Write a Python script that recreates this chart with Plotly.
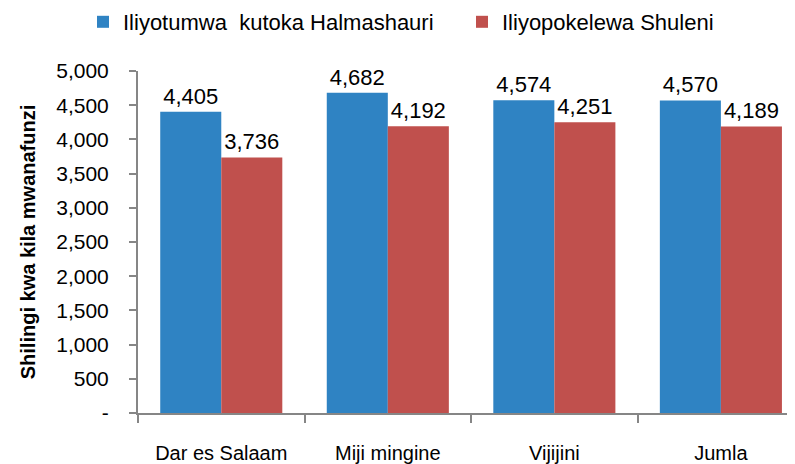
import plotly.graph_objects as go

categories = ["Dar es Salaam", "Miji mingine", "Vijijini", "Jumla"]
halmashauri = [4405, 4682, 4574, 4570]
shuleni = [3736, 4192, 4251, 4189]
series_names = ["Iliyotumwa  kutoka Halmashauri", "Iliyopokelewa Shuleni"]
y_tickvals = [0, 500, 1000, 1500, 2000, 2500, 3000, 3500, 4000, 4500, 5000]
y_ticktext = ["-", "500", "1,000", "1,500", "2,000", "2,500", "3,000", "3,500", "4,000", "4,500", "5,000"]

FONT = "Liberation Sans"
AX = "#868686"
W, H = 787, 456  # page body has an 8px default margin

fig = go.Figure()
fig.add_bar(x=categories, y=halmashauri, name=series_names[0], marker_color="#2F83C3",
            marker_line_width=0, text=[f"{v:,}" for v in halmashauri], textposition="outside",
            textfont=dict(size=22, color="#000000", family=FONT), cliponaxis=False,
            legend="legend")
fig.add_bar(x=categories, y=shuleni, name=series_names[1], marker_color="#C0504D",
            marker_line_width=0, text=[f"{v:,}" for v in shuleni], textposition="outside",
            textfont=dict(size=22, color="#000000", family=FONT), cliponaxis=False,
            legend="legend2")

leg_common = dict(orientation="h", yref="container", y=1 - 14 / H, yanchor="middle",
                  xref="container", xanchor="left", font=dict(size=22, family=FONT),
                  itemclick=False, itemdoubleclick=False, bgcolor="rgba(0,0,0,0)")

fig.update_layout(
    width=W, height=H,
    margin=dict(l=130, r=0, t=63, b=51, autoexpand=False),
    paper_bgcolor="white", plot_bgcolor="white",
    barmode="group", bargap=0.267, bargroupgap=0,
    font=dict(family=FONT, size=20, color="#000000"),
    showlegend=True,
    legend=dict(x=75 / W, **leg_common),
    legend2=dict(x=454 / W, **leg_common),
    uniformtext=dict(mode=False),
)
fig.update_xaxes(
    type="category", range=[-0.5, 3.445], showgrid=False, automargin=False,
    showline=True, linecolor=AX, linewidth=2,
    ticks="outside", tickson="boundaries", ticklen=8, tickwidth=2, tickcolor=AX,
    ticklabelstandoff=21, tickfont=dict(size=20, family=FONT),
)
fig.update_yaxes(
    range=[0, 5000], tickvals=y_tickvals, ticktext=y_ticktext, showgrid=False,
    showline=True, linecolor=AX, linewidth=2, zeroline=False, automargin=False,
    ticks="outside", ticklen=7, tickwidth=2, tickcolor=AX,
    ticklabelstandoff=16, tickfont=dict(size=21, family=FONT),
    title=dict(text="<b>Shilingi kwa kila mwanafunzi</b>", font=dict(size=20, family=FONT), standoff=15),
)

fig.write_html("out.html")
